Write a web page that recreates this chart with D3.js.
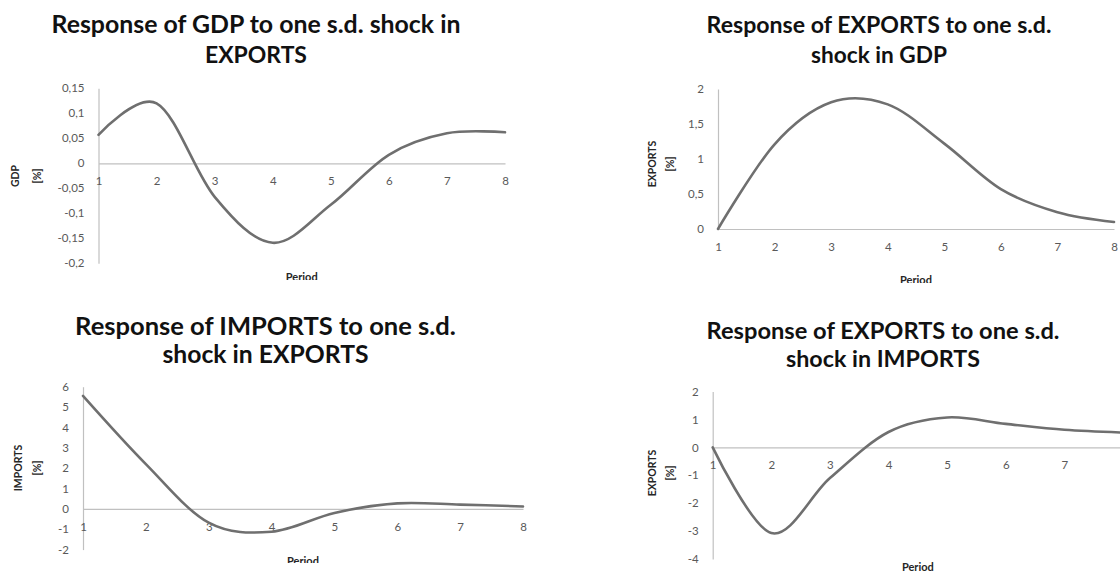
<!DOCTYPE html>
<html>
<head>
<meta charset="utf-8">
<script src="https://cdn.jsdelivr.net/npm/d3@7"></script>
<style>
  html, body { margin: 0; padding: 0; background: #ffffff; }
  svg { display: block; }
</style>
</head>
<body>
<script>
// ---------------- DATA ----------------
const periods = [1, 2, 3, 4, 5, 6, 7, 8];

// Response of GDP to one s.d. shock in EXPORTS
const gdpToExports = [0.057, 0.12, -0.067, -0.159, -0.083, 0.017, 0.06, 0.062];
// Response of EXPORTS to one s.d. shock in GDP
const exportsToGdp = [0, 1.21, 1.81, 1.78, 1.22, 0.57, 0.24, 0.10];
// Response of IMPORTS to one s.d. shock in EXPORTS
const importsToExports = [5.55, 2.2, -0.68, -1.12, -0.2, 0.27, 0.21, 0.12];
// Response of EXPORTS to one s.d. shock in IMPORTS
const exportsToImports = [0, -3.07, -1.1, 0.55, 1.07, 0.84, 0.63, 0.53];

const ticksGdp = [-0.2, -0.15, -0.1, -0.05, 0, 0.05, 0.1, 0.15];
const ticksExpGdp = [0, 0.5, 1, 1.5, 2];
const ticksImp = [-2, -1, 0, 1, 2, 3, 4, 5, 6];
const ticksExpImp = [-4, -3, -2, -1, 0, 1, 2];

const titles = [
  ["Response of GDP to one s.d. shock in", "EXPORTS"],
  ["Response of EXPORTS to one s.d.", "shock in GDP"],
  ["Response of IMPORTS to one s.d.", "shock in EXPORTS"],
  ["Response of EXPORTS to one s.d.", "shock in IMPORTS"]
];
const yTitles = [["GDP", "[%]"], ["EXPORTS", "[%]"], ["IMPORTS", "[%]"], ["EXPORTS", "[%]"]];
const xTitle = "Period";

// ---------------- LAYOUT ----------------
const panels = [
  { values: gdpToExports, ticks: ticksGdp, title: titles[0], yTitle: yTitles[0],
    x0: 98.5, x1: 505, yTop: 88.3, yBot: 263.3,
    tCx: 256, tW: [409, 102], tB: [33.3, 63.3],
    yTx: [15, 36.5], yTy: 176, periodY: 281, clip: [0, 0, 560, 280] },
  { values: exportsToGdp, ticks: ticksExpGdp, title: titles[1], yTitle: yTitles[1],
    x0: 718, x1: 1114, yTop: 89, yBot: 229,
    tCx: 879, tW: [345, 136], tB: [33, 63],
    yTx: [652, 669.5], yTy: 164, periodY: 284, clip: [560, 0, 560, 283] },
  { values: importsToExports, ticks: ticksImp, title: titles[2], yTitle: yTitles[2],
    x0: 83, x1: 523, yTop: 386.7, yBot: 549.6,
    tCx: 265.5, tW: [381, 206], tB: [335, 363],
    yTx: [18.3, 36.7], yTy: 468, periodY: 564.5, clip: [0, 290, 560, 273] },
  { values: exportsToImports, ticks: ticksExpImp, title: titles[3], yTitle: yTitles[3],
    x0: 712.7, x1: 1123, yTop: 391.5, yBot: 559,
    tCx: 883, tW: [353, 194], tB: [338.6, 366.6],
    yTx: [652, 669.5], yTy: 473, periodY: 571, clip: [560, 290, 560, 282] }
];

const fmt = v => String(+v.toFixed(2)).replace(".", ",");

const svg = d3.select("body").append("svg")
  .attr("width", 1120).attr("height", 572)
  .style("font-family", "Lato, 'Open Sans', sans-serif");
svg.append("rect").attr("width", 1120).attr("height", 572).attr("fill", "#fff");
const defs = svg.append("defs");

panels.forEach((p, i) => {
  defs.append("clipPath").attr("id", "clip" + i).append("rect")
    .attr("x", p.clip[0]).attr("y", p.clip[1]).attr("width", p.clip[2]).attr("height", p.clip[3]);
  const g = svg.append("g").attr("clip-path", `url(#clip${i})`);

  const x = d3.scalePoint().domain(periods).range([p.x0, p.x1]);
  const y = d3.scaleLinear().domain([p.ticks[0], p.ticks[p.ticks.length - 1]]).range([p.yBot, p.yTop]);

  // y axis
  const ya = g.append("g").attr("transform", `translate(${x(periods[0])},0)`)
    .call(d3.axisLeft(y).tickValues(p.ticks).tickFormat(fmt).tickSize(0).tickSizeOuter(0).tickPadding(14));
  ya.select(".domain").attr("stroke", "#c0c0c0").attr("stroke-width", 1.2);
  ya.selectAll("text").attr("fill", "#595959").style("font-size", "11.5px").style("font-family", "Lato, sans-serif");

  // x axis at zero
  const xa = g.append("g").attr("transform", `translate(0,${y(0)})`)
    .call(d3.axisBottom(x).tickSize(0).tickSizeOuter(0).tickPadding(14));
  xa.select(".domain").attr("stroke", "#c0c0c0").attr("stroke-width", 1.2);
  xa.selectAll("text").attr("fill", "#595959").style("font-size", "11.5px").style("font-family", "Lato, sans-serif");

  // line
  const line = d3.line().x((d, j) => x(periods[j])).y(d => y(d)).curve(d3.curveCardinal.tension(0));
  g.append("path").datum(p.values).attr("d", line)
    .attr("fill", "none").attr("stroke", "#6f6f6f").attr("stroke-width", 2.6)
    .attr("stroke-linejoin", "round").attr("stroke-linecap", "round");

  // chart title (two lines), fitted to measured widths
  p.title.forEach((t, k) => {
    const tx = g.append("text").text(t)
      .attr("x", p.tCx).attr("y", p.tB[k]).attr("text-anchor", "middle")
      .attr("fill", "#111").style("font-weight", "700").style("font-size", "20px")
      .style("font-family", "Lato, sans-serif");
    const w = tx.node().getComputedTextLength();
    tx.style("font-size", (20 * p.tW[k] / w).toFixed(2) + "px");
  });

  // y title (rotated two lines)
  p.yTitle.forEach((t, k) => {
    g.append("text").text(t)
      .attr("transform", `translate(${p.yTx[k]},${p.yTy}) rotate(-90)`)
      .attr("text-anchor", "middle").attr("dominant-baseline", "central")
      .attr("fill", "#262626").style("font-weight", "700").style("font-size", "10.5px")
      .style("font-family", "Lato, sans-serif");
  });

  // x title
  g.append("text").text(xTitle)
    .attr("x", (p.x0 + p.x1) / 2).attr("y", p.periodY).attr("text-anchor", "middle")
    .attr("fill", "#262626").style("font-weight", "700").style("font-size", "11px")
    .style("font-family", "Lato, sans-serif");
});
</script>
</body>
</html>
